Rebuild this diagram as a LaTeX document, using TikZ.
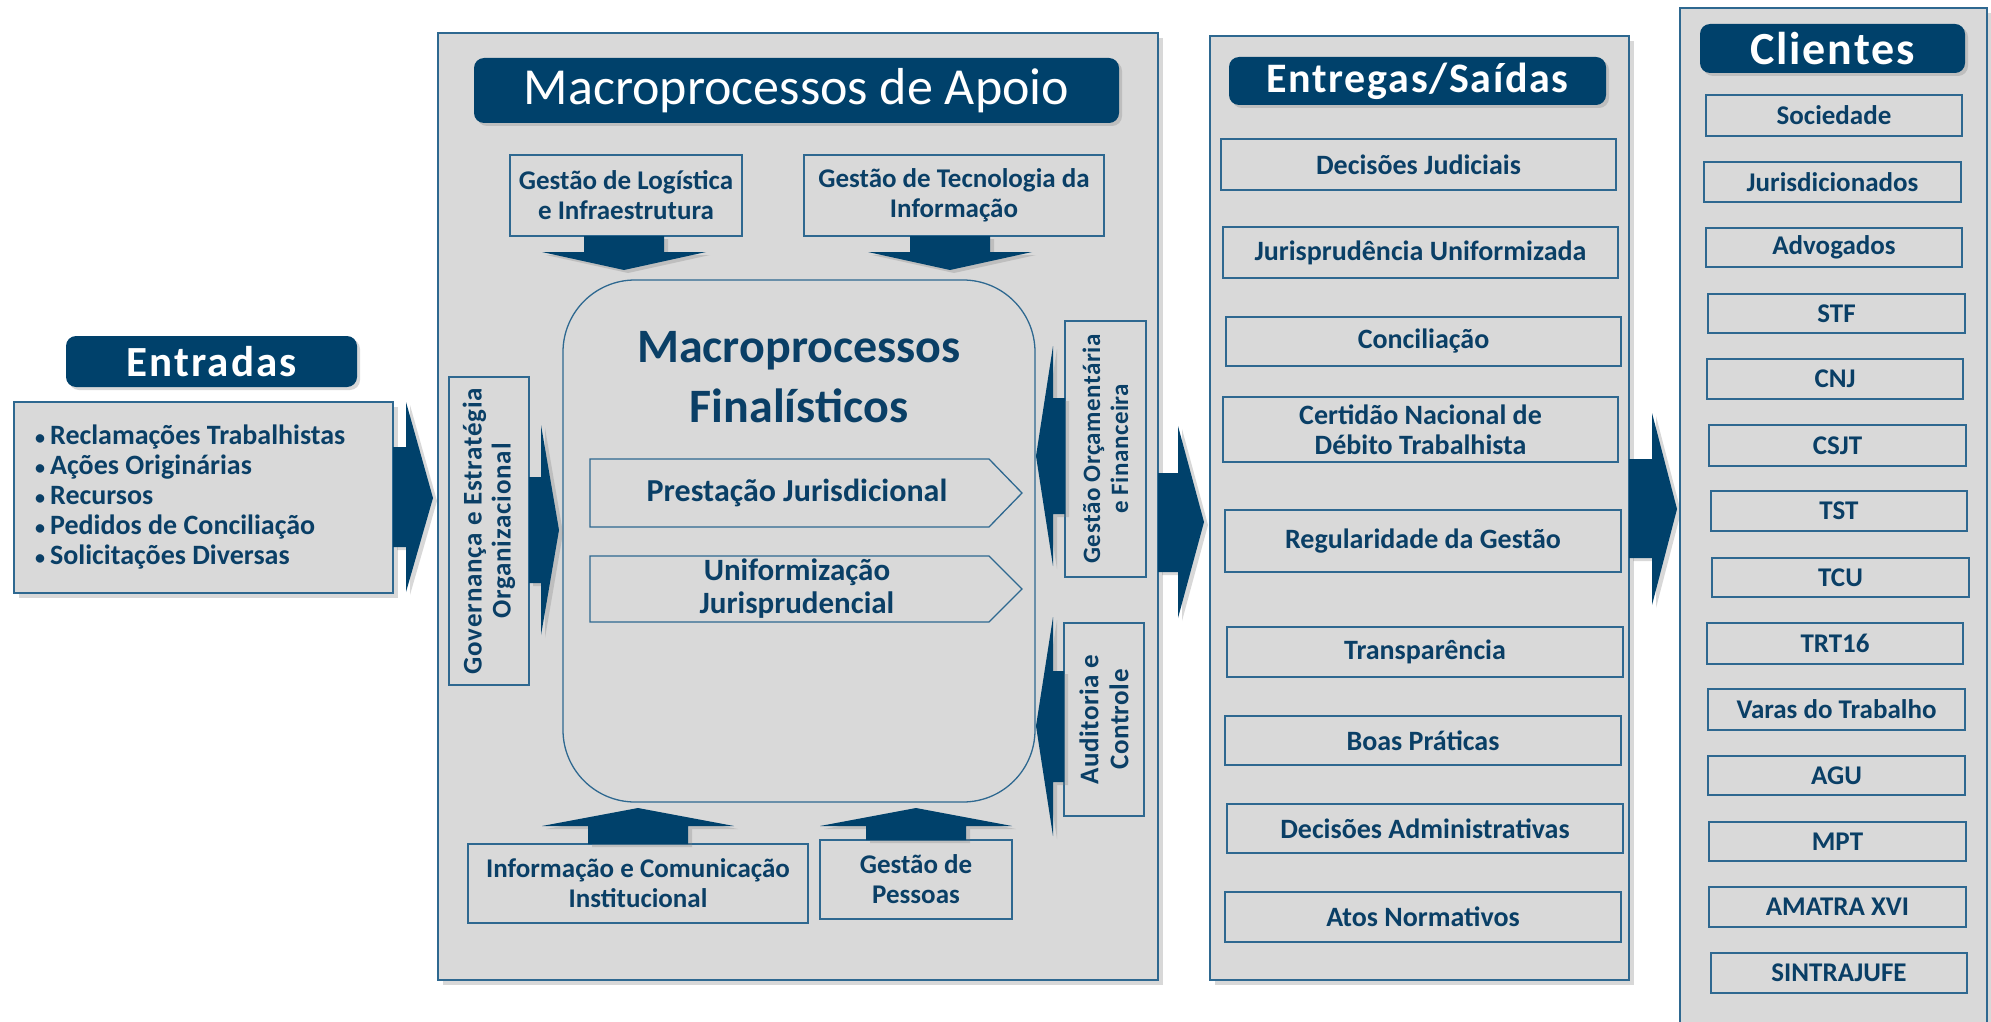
\documentclass[tikz,border=0pt]{standalone}
\usepackage{fontspec}
\setmainfont{Carlito}
\usetikzlibrary{shadows}
\definecolor{navy}{HTML}{00416B}
\definecolor{txtblue}{HTML}{0A3F66}
\definecolor{edgeblue}{HTML}{2E6890}
\definecolor{panelgray}{HTML}{D9D9D9}
\newcommand\fs[2]{\fontsize{#1}{#2}\selectfont}
% \bx[style]{name}{x1}{y1}{x2}{y2}{text}
\newcommand\bx[7][]{\node[#1, minimum width={(#5-#3)*1pt}, minimum height={(#6-#4)*1pt}] (#2) at ({(#3+#5)/2},{(#4+#6)/2}) {#7};}
\newcommand\smallbullet{{\fs{20}{20}•}\hspace{5pt}}
\begin{document}
\begin{tikzpicture}[x=1pt,y=-1pt,
  panel/.style={draw=edgeblue, line width=1.6pt, fill=panelgray, inner sep=0pt,
    drop shadow={shadow xshift=5pt, shadow yshift=-5pt, opacity=0.3}},
  header/.style={fill=navy, rounded corners=10pt, inner sep=0pt, text=white,
    drop shadow={shadow xshift=3pt, shadow yshift=-3pt, opacity=0.3}},
  itembox/.style={draw=edgeblue, line width=1.3pt, inner sep=0pt, text=txtblue, align=center},
  itemline/.style={draw=edgeblue, line width=1.3pt},
  blockarrow/.style={fill=navy, drop shadow={shadow xshift=4pt, shadow yshift=-3pt, opacity=0.3}},
  lbl/.style={text=txtblue, inner sep=0pt, align=center},
  ftitem/.style={font=\bfseries\fs{28}{30}},
  ftcli/.style={font=\bfseries\fs{27}{30}},
  ftmid/.style={font=\bfseries\fs{27}{30}},
]
\useasboundingbox (0,0) rectangle (1991,1022);
\fill[white] (0,0) rectangle (1991,1022);

% ---------------- Entradas ----------------
\bx[header, font=\bfseries\fs{43}{46}\addfontfeature{LetterSpace=5}]{enthead}{66}{336}{357}{387}{Entradas}
\bx[panel]{entbox}{14}{402}{393}{593}{}
\node[lbl, anchor=base west, font=\bfseries\fs{28}{30}] (e1) at (35,444) {\smallbullet Reclamações Trabalhistas};
\node[lbl, anchor=base west, font=\bfseries\fs{28}{30}] (e2) at (35,474) {\smallbullet Ações Originárias};
\node[lbl, anchor=base west, font=\bfseries\fs{28}{30}] (e3) at (35,504) {\smallbullet Recursos};
\node[lbl, anchor=base west, font=\bfseries\fs{28}{30}] (e4) at (35,534) {\smallbullet Pedidos de Conciliação};
\node[lbl, anchor=base west, font=\bfseries\fs{28}{30}] (e5) at (35,564) {\smallbullet Solicitações Diversas};
\fill[blockarrow] (393,447) -- (406,447) -- (406,402) -- (433,498) -- (406,592) -- (406,547) -- (393,547) -- cycle;

% ---------------- Macroprocessos de Apoio ----------------
\bx[panel]{main}{438}{33}{1158}{980}{}
\bx[header, font=\fs{52}{56}]{mainhead}{474}{58}{1119}{123}{Macroprocessos de Apoio}

\bx[itembox, ftmid]{log}{510}{155}{742}{236}{Gestão de Logística\\e Infraestrutura}
\bx[itembox, ftmid]{tec}{804}{155}{1104}{236}{Gestão de Tecnologia da\\Informação}
\fill[blockarrow] (584,236) -- (664,236) -- (664,252) -- (706,252) -- (624,270) -- (542,252) -- (584,252) -- cycle;
\fill[blockarrow] (910,236) -- (990,236) -- (990,252) -- (1032,252) -- (950,270) -- (868,252) -- (910,252) -- cycle;

\bx[draw=edgeblue, line width=1.3pt, rounded corners=72pt, inner sep=0pt]{fin}{563}{280}{1035}{802}{}
\node[lbl, anchor=base, font=\bfseries\fs{48}{54}] (fin1) at (799,362) {Macroprocessos};
\node[lbl, anchor=base, font=\bfseries\fs{48}{54}] (fin2) at (799,422) {Finalísticos};

\draw[itemline] (590,459) -- (989,459) -- (1022,493) -- (989,527) -- (590,527) -- cycle;
\node[lbl, font=\bfseries\fs{32}{34}] (pj) at (797,493) {Prestação Jurisdicional};
\draw[itemline] (590,556) -- (989,556) -- (1022,589) -- (989,622) -- (590,622) -- cycle;
\node[lbl, font=\bfseries\fs{31}{33}] (uj) at (797,589) {Uniformização\\Jurisprudencial};

\bx[itembox]{gov}{449}{377}{529}{685}{}
\node[lbl, rotate=90, font=\bfseries\fs{27}{29}\addfontfeature{LetterSpace=3}] (govt) at (gov.center) {Governança e Estratégia\\Organizacional};
\fill[blockarrow] (529,477) -- (541,477) -- (541,425) -- (559,530) -- (541,635) -- (541,583) -- (529,583) -- cycle;

\bx[itembox]{orc}{1065}{321}{1146}{577}{}
\node[lbl, rotate=90, font=\bfseries\fs{25}{28}\addfontfeature{LetterSpace=2}] (orct) at (orc.center) {Gestão Orçamentária\\e Financeira};
\fill[blockarrow] (1065,398) -- (1053,398) -- (1053,346) -- (1036,456) -- (1053,566) -- (1053,514) -- (1065,514) -- cycle;

\bx[itembox]{aud}{1064}{623}{1144}{816}{}
\node[lbl, rotate=90, font=\bfseries\fs{27}{30}\addfontfeature{LetterSpace=2}] (audt) at (aud.center) {Auditoria e\\Controle};
\fill[blockarrow] (1064,671) -- (1053,671) -- (1053,617) -- (1036,726) -- (1053,836) -- (1053,782) -- (1064,782) -- cycle;

\bx[itembox, ftmid]{info}{468}{844}{808}{923}{Informação e Comunicação\\Institucional}
\bx[itembox, ftmid]{pes}{820}{840}{1012}{919}{Gestão de\\Pessoas}
\fill[blockarrow] (588,844) -- (588,826) -- (542,826) -- (638,808) -- (734,826) -- (688,826) -- (688,844) -- cycle;
\fill[blockarrow] (866,840) -- (866,826) -- (820,826) -- (916,808) -- (1012,826) -- (966,826) -- (966,840) -- cycle;

\fill[blockarrow] (1158,473) -- (1178,473) -- (1178,426) -- (1204,522) -- (1178,618) -- (1178,572) -- (1158,572) -- cycle;

% ---------------- Entregas/Saidas ----------------
\bx[panel]{ent}{1210}{36}{1629}{980}{}
\bx[header, font=\bfseries\fs{42}{46}\addfontfeature{LetterSpace=4}]{enthd}{1229}{57}{1606}{105}{Entregas/Saídas}
\bx[itembox, ftitem]{dj}{1221}{139}{1616}{190}{Decisões Judiciais}
\bx[itembox, ftitem]{ju}{1223}{227}{1618}{278}{Jurisprudência Uniformizada}
\bx[itembox, ftitem]{co}{1226}{317}{1621}{366}{Conciliação}
\bx[itembox, ftitem]{ce}{1223}{397}{1618}{462}{Certidão Nacional de\\Débito Trabalhista}
\bx[itembox, ftitem]{rg}{1225}{510}{1621}{572}{Regularidade da Gestão}
\bx[itembox, ftitem]{tr}{1227}{627}{1623}{677}{Transparência}
\bx[itembox, ftitem]{bp}{1225}{716}{1621}{765}{Boas Práticas}
\bx[itembox, ftitem]{da}{1227}{804}{1623}{853}{Decisões Administrativas}
\bx[itembox, ftitem]{an}{1225}{892}{1621}{942}{Atos Normativos}

\fill[blockarrow] (1629,459) -- (1652,459) -- (1652,413) -- (1677,509) -- (1652,605) -- (1652,558) -- (1629,558) -- cycle;

% ---------------- Clientes ----------------
\bx[panel]{cli}{1680}{8}{1987}{1040}{}
\bx[header, font=\bfseries\fs{46}{50}\addfontfeature{LetterSpace=4}]{clihd}{1700}{24}{1965}{73}{Clientes}
\bx[itembox, ftcli]{c1}{1706}{95}{1962}{136}{Sociedade}
\bx[itembox, ftcli]{c2}{1704}{162}{1961}{202}{Jurisdicionados}
\bx[itembox, ftcli]{c3}{1706}{228}{1962}{267}{Advogados}
\bx[itembox, ftcli]{c4}{1708}{294}{1965}{333}{STF}
\bx[itembox, ftcli]{c5}{1707}{359}{1963}{399}{CNJ}
\bx[itembox, ftcli]{c6}{1709}{425}{1966}{466}{CSJT}
\bx[itembox, ftcli]{c7}{1711}{491}{1967}{531}{TST}
\bx[itembox, ftcli]{c8}{1712}{558}{1969}{597}{TCU}
\bx[itembox, ftcli]{c9}{1707}{623}{1963}{664}{TRT16}
\bx[itembox, ftcli]{c10}{1708}{689}{1965}{730}{Varas do Trabalho}
\bx[itembox, ftcli]{c11}{1708}{756}{1965}{795}{AGU}
\bx[itembox, ftcli]{c12}{1709}{822}{1966}{861}{MPT}
\bx[itembox, ftcli]{c13}{1709}{887}{1966}{927}{AMATRA XVI}
\bx[itembox, ftcli]{c14}{1711}{953}{1967}{993}{SINTRAJUFE}
\end{tikzpicture}
\end{document}
